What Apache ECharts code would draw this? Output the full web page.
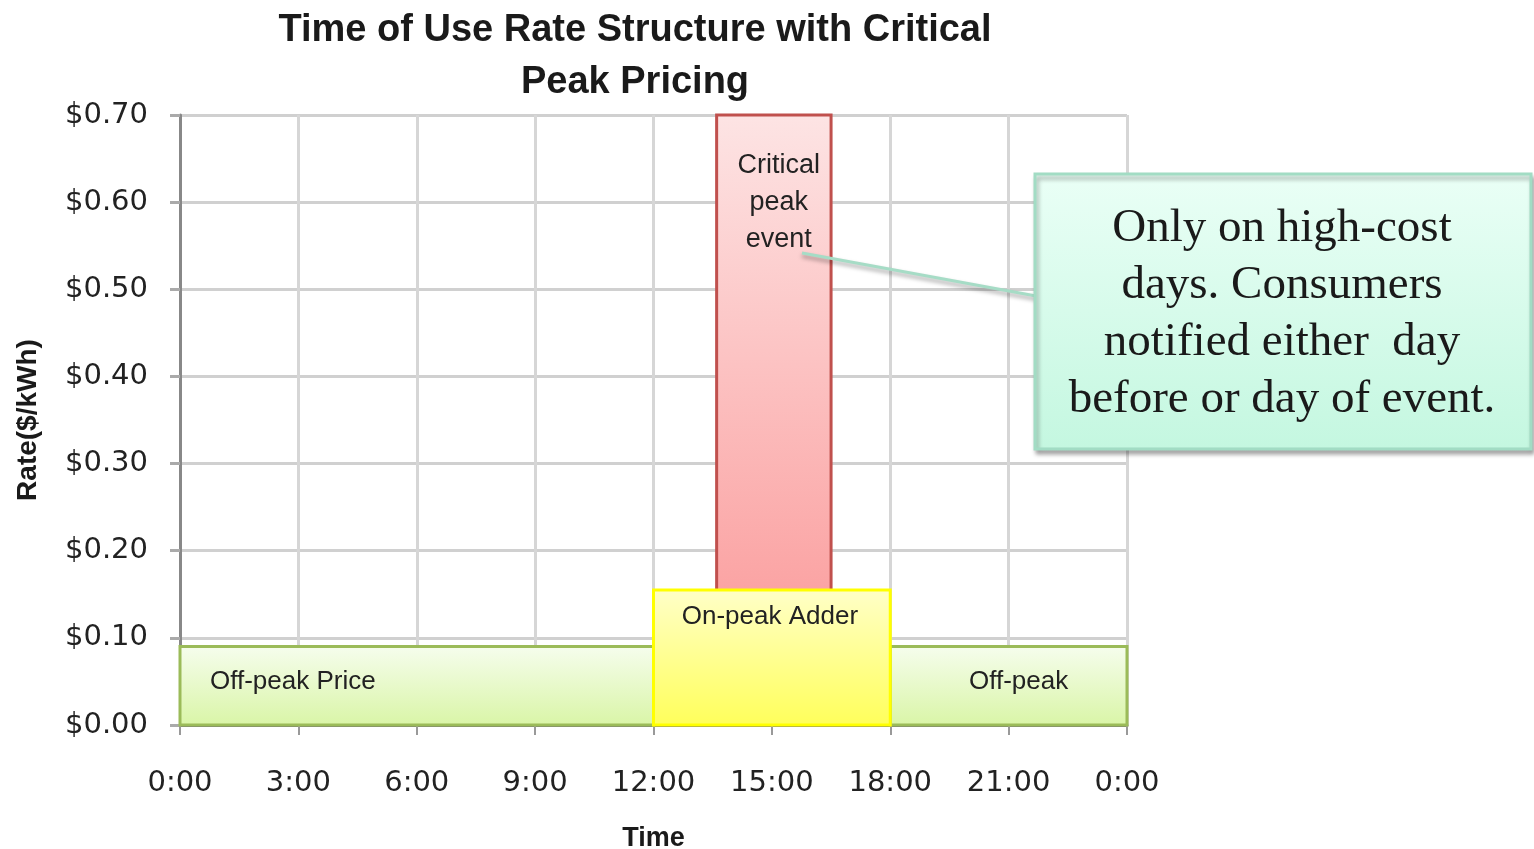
<!DOCTYPE html>
<html lang="en">
	<head>
		<meta charset="utf-8" />
		<title>Time of Use Rate Structure with Critical Peak Pricing</title>
		<style>
			html,
			body {
				margin: 0;
				padding: 0;
				background: #fff;
			}
		</style>
	</head>
	<body>
		<div id="main" style="width: 1534px;height:849px;"></div>
		<script src="https://cdn.jsdelivr.net/npm/echarts@6/dist/echarts.min.js"></script>
		<script type="text/javascript">
			// rate blocks, drawn in this order (last one on top)
			var blockNames = ['Off-peak Price', 'Off-peak', 'Critical peak event', 'On-peak Adder'];
			var blockStart = [0, 18, 13.6, 12]; // hour
			var blockEnd = [12, 24, 16.5, 18];
			var blockLow = [0, 0, 0.15, 0]; // $/kWh
			var blockHigh = [0.09, 0.09, 0.7, 0.155];
			var blockLabels = ['Off-peak Price', 'Off-peak', 'Critical\npeak\nevent', 'On-peak Adder'];

			var xTicks = ['0:00', '3:00', '6:00', '9:00', '12:00', '15:00', '18:00', '21:00', '0:00'];
			var yTicks = ['$0.00', '$0.10', '$0.20', '$0.30', '$0.40', '$0.50', '$0.60', '$0.70'];

			var calloutLines = ['Only on high-cost', 'days. Consumers', 'notified either  day', 'before or day of event.'];

			// colours per block
			var fills = [
				['#f6fdee', '#d9f5a6', '#9bbb59'],
				['#f6fdee', '#d9f5a6', '#9bbb59'],
				['#fde4e4', '#fba3a3', '#c0504d'],
				['#ffffc8', '#ffff5a', '#ffff00'],
			];

			var data = blockNames.map(function(n, i) {
				return { name: n, value: [blockStart[i], blockEnd[i], blockLow[i], blockHigh[i], i] };
			});

			var myChart = echarts.init(document.getElementById('main'));
			var option = {
				animation: false,
				backgroundColor: '#fff',
				title: {
					text: 'Time of Use Rate Structure with Critical\nPeak Pricing',
					left: 630,
					top: 0,
					textAlign: 'center',
					textStyle: {
						fontFamily: 'Liberation Sans',
						fontWeight: 'bold',
						fontSize: 38,
						lineHeight: 52,
						color: '#1a1a1a',
					},
				},
				grid: {
					left: 180,
					right: 407,
					top: 115,
					bottom: 124,
					containLabel: false,
					outerBoundsMode: 'none',
				},
				xAxis: {
					type: 'value',
					min: 0,
					max: 24,
					interval: 3,
					name: 'Time',
					nameLocation: 'middle',
					nameGap: 100,
					nameTextStyle: {
						fontFamily: 'Liberation Sans',
						fontWeight: 'bold',
						fontSize: 27,
						color: '#1a1a1a',
					},
					axisLine: { lineStyle: { color: '#777', width: 3 } },
					axisTick: { show: true, length: 10, lineStyle: { color: '#999', width: 2 } },
					axisLabel: {
						margin: 44,
						fontFamily: 'DejaVu Sans',
						fontSize: 29,
						color: '#222',
						formatter: function(v) {
							return xTicks[Math.round(v / 3)];
						},
					},
					splitLine: { show: true, lineStyle: { color: '#d6d6d6', width: 3 } },
				},
				yAxis: {
					type: 'value',
					min: 0,
					max: 0.7,
					interval: 0.1,
					name: 'Rate($/kWh)',
					nameLocation: 'middle',
					nameGap: 138,
					nameTextStyle: {
						fontFamily: 'Liberation Sans',
						fontWeight: 'bold',
						fontSize: 28,
						color: '#1a1a1a',
					},
					axisLine: { show: true, lineStyle: { color: '#888', width: 3 } },
					axisTick: { show: true, length: 10, lineStyle: { color: '#aaa', width: 3 } },
					axisLabel: {
						margin: 32,
						fontFamily: 'DejaVu Sans',
						fontSize: 29,
						color: '#222',
						formatter: function(v) {
							return yTicks[Math.round(v * 10)];
						},
					},
					splitLine: { show: true, lineStyle: { color: '#d0d0d0', width: 3 } },
				},
				graphic: [
					{
						type: 'line',
						z: 50,
						shape: { x1: 802, y1: 253, x2: 1036, y2: 296 },
						style: {
							stroke: '#a6dcc6',
							lineWidth: 3,
							shadowBlur: 4,
							shadowOffsetY: 3,
							shadowColor: 'rgba(0,0,0,0.35)',
						},
					},
					{
						type: 'rect',
						z: 50,
						shape: { x: 1035, y: 174, width: 496, height: 275 },
						style: {
							fill: new echarts.graphic.LinearGradient(0, 0, 0, 1, [
								{ offset: 0, color: '#eafff6' },
								{ offset: 1, color: '#c4f7e0' },
							]),
							stroke: '#a2dcc4',
							lineWidth: 3,
							shadowBlur: 4,
							shadowOffsetX: 2,
							shadowOffsetY: 4,
							shadowColor: 'rgba(0,0,0,0.3)',
						},
					},
					{
						type: 'text',
						z: 51,
						x: 1282,
						y: 200,
						style: {
							text: calloutLines.join('\n'),
							align: 'center',
							fontFamily: 'Liberation Serif',
							fontSize: 47,
							lineHeight: 57,
							fill: '#1a1a1a',
						},
					},
				],
				series: [
					{
						type: 'custom',
						data: data,
						renderItem: function(params, api) {
							var i = api.value(4);
							var p0 = api.coord([api.value(0), api.value(3)]);
							var p1 = api.coord([api.value(1), api.value(2)]);
							var w = p1[0] - p0[0];
							var h = p1[1] - p0[1];
							var c = fills[i];
							var tx, ty, align;
							var fs = 26;
							if (i === 0) {
								tx = p0[0] + 30; ty = p0[1] + h / 2 - 4; align = 'left';
							} else if (i === 1) {
								tx = p0[0] + w / 2 + 10; ty = p0[1] + h / 2 - 4; align = 'center';
							} else if (i === 2) {
								tx = p0[0] + w / 2 + 5; ty = p0[1] + 88; align = 'center'; fs = 27;
							} else {
								tx = p0[0] + w / 2 - 2; ty = p0[1] + 27; align = 'center';
							}
							return {
								type: 'group',
								children: [
									{
										type: 'rect',
										shape: { x: p0[0], y: p0[1], width: w, height: h },
										style: {
											fill: new echarts.graphic.LinearGradient(0, 0, 0, 1, [
												{ offset: 0, color: c[0] },
												{ offset: 1, color: c[1] },
											]),
											stroke: c[2],
											lineWidth: 3,
										},
									},
									{
										type: 'text',
										x: tx,
										y: ty,
										style: {
											text: blockLabels[i],
											align: align,
											verticalAlign: 'middle',
											fontFamily: 'Liberation Sans',
											fontSize: fs,
											lineHeight: 37,
											fill: '#222',
										},
									},
								],
							};
						},
					},
				],
			};
			myChart.setOption(option);
		</script>
	</body>
</html>
